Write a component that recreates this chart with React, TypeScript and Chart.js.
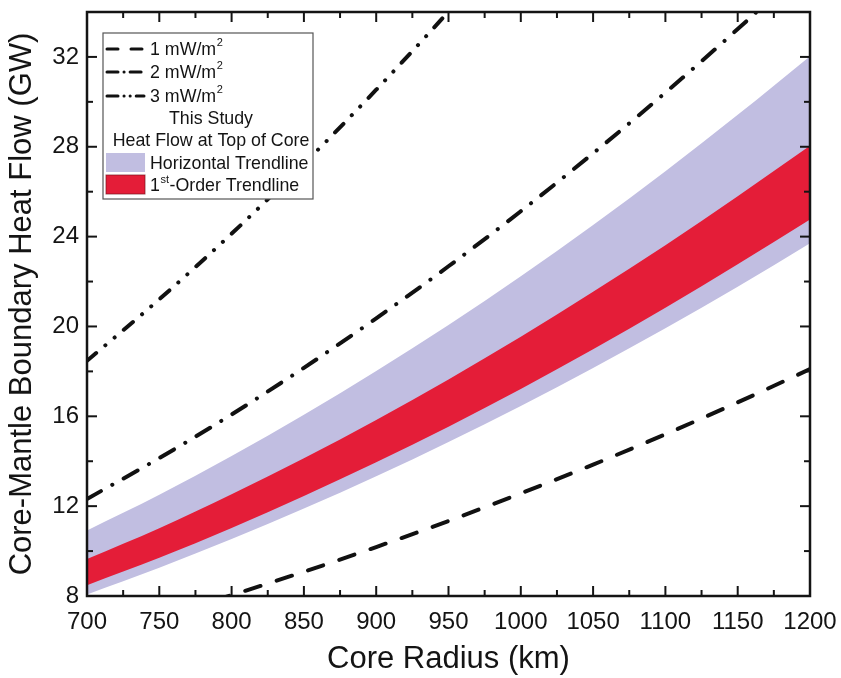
import React, { useEffect, useRef } from "react";
import { Chart, registerables } from "chart.js";

Chart.register(...registerables);

// ---- data ----
const radiusKm = [700, 750, 800, 850, 900, 950, 1000, 1050, 1100, 1150, 1200];
const flux1mW = [6.16, 7.07, 8.04, 9.08, 10.18, 11.34, 12.57, 13.85, 15.2, 16.62, 18.1];
const flux2mW = [12.32, 14.14, 16.08, 18.16, 20.36, 22.68, 25.13, 27.71, 30.41, 33.24, 36.19];
const flux3mW = [18.47, 21.21, 24.13, 27.24, 30.54, 34.02, 37.7, 41.56];
const horizUpper = [10.92, 12.51, 14.23, 16.07, 18.02, 20.07, 22.24, 24.52, 26.91, 29.42, 32.03];
const horizLower = [8.07, 9.26, 10.54, 11.89, 13.33, 14.86, 16.46, 18.15, 19.92, 21.77, 23.71];
const firstUpper = [9.65, 11.02, 12.53, 14.13, 15.84, 17.64, 19.54, 21.54, 23.62, 25.8, 28.05];
const firstLower = [8.48, 9.7, 11.03, 12.45, 13.95, 15.54, 17.22, 18.98, 20.83, 22.77, 24.76];

const xTicks = [700, 750, 800, 850, 900, 950, 1000, 1050, 1100, 1150, 1200];
const yTicks = [8, 12, 16, 20, 24, 28, 32];
const xMinor = [725, 775, 825, 875, 925, 975, 1025, 1075, 1125, 1175];
const yMinor = [10, 14, 18, 22, 26, 30, 34];

const lineLabels = ["1 mW/m", "2 mW/m", "3 mW/m"];
const studyTitle = ["This Study", "Heat Flow at Top of Core"];
const bandLabels = ["Horizontal Trendline", "-Order Trendline"];

const FONT = "'Liberation Sans', Arial, sans-serif";
const LAVENDER = "rgb(193,190,225)";
const RED = "rgb(228,29,56)";
const INK = "#141414";

const DASH1 = [16, 17];
const DASH2 = [16, 13, 0.1, 13];
const DASH3 = [12, 12, 0.1, 12, 0.1, 12];

const pts = (ys: number[]) => ys.map((y, i) => ({ x: radiusKm[i], y }));

const frameTicksPlugin = {
  id: "frameTicks",
  afterDatasetsDraw(chart: any) {
    const { ctx, chartArea: ca, scales } = chart;
    const xs = scales.x;
    const ys = scales.y;
    ctx.save();
    ctx.strokeStyle = INK;
    ctx.lineWidth = 2.5;
    ctx.setLineDash([]);
    ctx.strokeRect(ca.left, ca.top, ca.right - ca.left, ca.bottom - ca.top);
    const tick = (x1: number, y1: number, x2: number, y2: number) => {
      ctx.beginPath();
      ctx.moveTo(x1, y1);
      ctx.lineTo(x2, y2);
      ctx.stroke();
    };
    ctx.lineWidth = 2;
    const MAJ = 10;
    const MIN = 6;
    xTicks.forEach((v) => {
      const p = xs.getPixelForValue(v);
      tick(p, ca.bottom, p, ca.bottom - MAJ);
      tick(p, ca.top, p, ca.top + MAJ);
    });
    xMinor.forEach((v) => {
      const p = xs.getPixelForValue(v);
      tick(p, ca.bottom, p, ca.bottom - MIN);
      tick(p, ca.top, p, ca.top + MIN);
    });
    yTicks.forEach((v) => {
      const p = ys.getPixelForValue(v);
      tick(ca.left, p, ca.left + MAJ, p);
      tick(ca.right, p, ca.right - MAJ, p);
    });
    yMinor.forEach((v) => {
      const p = ys.getPixelForValue(v);
      if (p < ca.top + 1) return;
      tick(ca.left, p, ca.left + MIN, p);
      tick(ca.right, p, ca.right - MIN, p);
    });
    ctx.restore();
  },
};

const legendPlugin = {
  id: "customLegend",
  afterDraw(chart: any) {
    const { ctx, chartArea: ca } = chart;
    const bx = ca.left + 16;
    const by = ca.top + 21;
    const bw = 210;
    const bh = 166;
    ctx.save();
    ctx.fillStyle = "#ffffff";
    ctx.fillRect(bx, by, bw, bh);
    ctx.strokeStyle = "#555";
    ctx.lineWidth = 1.2;
    ctx.setLineDash([]);
    ctx.strokeRect(bx, by, bw, bh);

    const fs = 17.8;
    const big = `${fs}px ${FONT}`;
    const small = `${fs * 0.62}px ${FONT}`;
    ctx.fillStyle = INK;
    ctx.textBaseline = "middle";
    const rows = [16, 39, 63, 85, 107, 130, 152];
    const dashes = [[11, 13], [11, 6, 0.1, 6], [11, 6, 0.1, 6, 0.1, 6]];
    const textX = bx + 47;

    lineLabels.forEach((lab, i) => {
      const y = by + rows[i];
      ctx.strokeStyle = "#111";
      ctx.lineWidth = 3;
      ctx.lineCap = "round";
      ctx.setLineDash(dashes[i]);
      ctx.beginPath();
      ctx.moveTo(bx + 4, y);
      ctx.lineTo(bx + 41, y);
      ctx.stroke();
      ctx.setLineDash([]);
      ctx.textAlign = "left";
      ctx.font = big;
      ctx.fillText(lab, textX, y + 1);
      const w = ctx.measureText(lab).width;
      ctx.font = small;
      ctx.fillText("2", textX + w + 0.5, y - 6);
    });

    ctx.font = big;
    ctx.textAlign = "center";
    ctx.fillText(studyTitle[0], bx + bw / 2 + 3, by + rows[3] + 1);
    ctx.fillText(studyTitle[1], bx + bw / 2 + 3, by + rows[4] + 1);

    // band swatches
    ctx.fillStyle = LAVENDER;
    ctx.fillRect(bx + 3, by + rows[5] - 10, 39, 19);
    ctx.fillStyle = RED;
    ctx.fillRect(bx + 3, by + rows[6] - 10, 39, 19);
    ctx.strokeStyle = "rgba(120,20,30,0.7)";
    ctx.lineWidth = 1;
    ctx.strokeRect(bx + 3, by + rows[6] - 10, 39, 19);

    ctx.fillStyle = INK;
    ctx.textAlign = "left";
    ctx.font = big;
    ctx.fillText(bandLabels[0], textX, by + rows[5] + 1);
    const y6 = by + rows[6] + 1;
    ctx.fillText("1", textX, y6);
    let x = textX + ctx.measureText("1").width + 0.5;
    ctx.font = small;
    ctx.fillText("st", x, y6 - 6);
    x += ctx.measureText("st").width + 0.5;
    ctx.font = big;
    ctx.fillText(bandLabels[1], x, y6);
    ctx.restore();
  },
};

export default function App() {
  const ref = useRef<HTMLCanvasElement | null>(null);

  useEffect(() => {
    document.body.style.margin = "0";
    const canvas = ref.current;
    if (!canvas) return;
    const lineDs = (label: string, data: number[], dash: number[]) => ({
      label,
      data: pts(data),
      borderColor: "#111",
      borderWidth: 4,
      borderDash: dash,
      borderCapStyle: "round",
      pointRadius: 0,
      fill: false,
      cubicInterpolationMode: "monotone",
      clip: 0,
      order: 1,
    });
    const band = (label: string, data: number[], color: string | null, order: number) => ({
      label,
      data: pts(data),
      borderWidth: 0,
      borderColor: "rgba(0,0,0,0)",
      backgroundColor: color || "rgba(0,0,0,0)",
      pointRadius: 0,
      fill: color ? "+1" : false,
      cubicInterpolationMode: "monotone",
      clip: 0,
      order,
    });
    const chart = new Chart(canvas, {
      type: "line",
      data: {
        datasets: [
          band("Horizontal Trendline", horizUpper, LAVENDER, 10),
          band("Horizontal lower", horizLower, null, 9),
          band("1st-Order Trendline", firstUpper, RED, 8),
          band("1st-Order lower", firstLower, null, 7),
          lineDs("1 mW/m²", flux1mW, DASH1),
          lineDs("2 mW/m²", flux2mW, DASH2),
          lineDs("3 mW/m²", flux3mW, DASH3),
        ] as any,
      },
      options: {
        animation: false,
        responsive: false,
        maintainAspectRatio: false,
        layout: { padding: { left: 0, right: 31, top: 12, bottom: 0 } },
        plugins: { legend: { display: false }, tooltip: { enabled: false } },
        scales: {
          x: {
            type: "linear",
            min: 700,
            max: 1200,
            grid: { display: false, drawTicks: false },
            border: { display: false },
            afterBuildTicks: (s: any) => {
              s.ticks = xTicks.map((v) => ({ value: v }));
            },
            afterFit: (s: any) => {
              s.height = 82;
              s.paddingLeft = 0;
              s.paddingRight = 0;
            },
            ticks: {
              padding: 12,
              color: INK,
              font: { family: FONT, size: 24 },
              maxRotation: 0,
              autoSkip: false,
              callback: (v: any) => String(v),
            },
            title: {
              display: true,
              text: "Core Radius (km)",
              color: INK,
              font: { family: FONT, size: 31 },
              padding: { top: 0, bottom: 0 },
            },
          },
          y: {
            type: "linear",
            min: 8,
            max: 34,
            grid: { display: false, drawTicks: false },
            border: { display: false },
            afterBuildTicks: (s: any) => {
              s.ticks = yTicks.map((v) => ({ value: v }));
            },
            afterFit: (s: any) => {
              s.width = 87;
              s.paddingTop = 0;
              s.paddingBottom = 0;
            },
            ticks: {
              padding: 8,
              color: INK,
              font: { family: FONT, size: 24 },
              autoSkip: false,
              callback: (v: any) => String(v),
            },
            title: {
              display: true,
              text: "Core-Mantle Boundary Heat Flow (GW)",
              color: INK,
              font: { family: FONT, size: 31 },
              padding: { top: 4, bottom: 0 },
            },
          },
        },
      } as any,
      plugins: [frameTicksPlugin, legendPlugin],
    });
    return () => chart.destroy();
  }, []);

  return (
    <div style={{ width: 841, height: 678 }}>
      <canvas ref={ref} width={841} height={678} style={{ display: "block" }} />
    </div>
  );
}
